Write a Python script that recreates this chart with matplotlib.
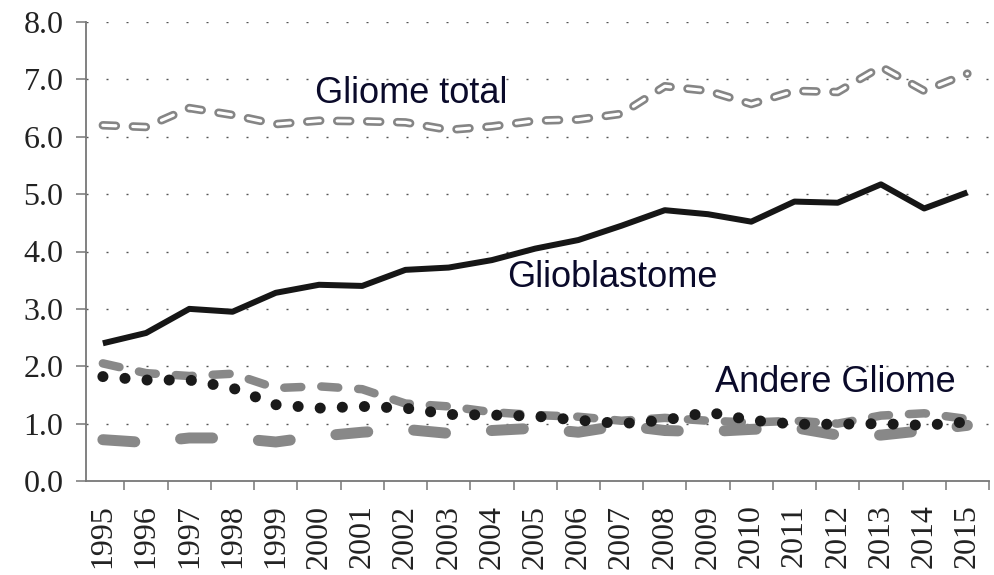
import numpy as np
import matplotlib
matplotlib.use('Agg')
import matplotlib.pyplot as plt

plt.rcParams['lines.scale_dashes'] = False

years = [str(y) for y in range(1995, 2016)]

gliome_total = [6.20, 6.17, 6.50, 6.38, 6.22, 6.28, 6.27, 6.25, 6.12, 6.18, 6.28, 6.30,
                6.40, 6.88, 6.80, 6.57, 6.80, 6.78, 7.22, 6.80, 7.10]
glioblastome = [2.40, 2.58, 3.00, 2.95, 3.28, 3.42, 3.40, 3.68, 3.72, 3.85, 4.05, 4.20,
                4.45, 4.72, 4.65, 4.52, 4.87, 4.85, 5.17, 4.75, 5.03]
andere_a = [2.05, 1.88, 1.83, 1.87, 1.62, 1.65, 1.60, 1.35, 1.30, 1.20, 1.15, 1.12,
            1.05, 1.10, 1.05, 1.02, 1.05, 1.00, 1.14, 1.18, 1.08]
andere_b = [1.82, 1.76, 1.76, 1.62, 1.33, 1.27, 1.30, 1.27, 1.16, 1.15, 1.13, 1.06,
            1.00, 1.06, 1.20, 1.06, 0.99, 0.99, 1.00, 0.97, 1.03]
andere_c = [0.72, 0.67, 0.75, 0.75, 0.68, 0.78, 0.85, 0.90, 0.83, 0.88, 0.92, 0.85,
            0.97, 0.88, 0.86, 0.90, 0.93, 0.80, 0.80, 0.88, 0.97]

x = np.arange(len(years))
px = 0.72  # points per pixel at dpi 100

fig = plt.figure(figsize=(9.95, 5.75), dpi=100)
ax = fig.add_axes([86 / 995, 1 - 481 / 575, (989 - 86) / 995, (481 - 22) / 575])

# grid
for v in range(1, 9):
    ax.axhline(v, color='#555555', lw=1.0, linestyle=(0, (2 * px, 18 * px)), zorder=0)

# gliome total, hollow dashes
dash_tot = (0, (13 * px, 17 * px))
ax.plot(x, gliome_total, color='#858585', lw=8.5 * px, linestyle=dash_tot,
        dash_capstyle='round', zorder=2)
ax.plot(x, gliome_total, color='white', lw=3.2 * px, linestyle=dash_tot,
        dash_capstyle='round', zorder=3)

ax.plot(x, glioblastome, color='#161616', lw=6 * px, solid_capstyle='butt', zorder=3)

ax.plot(x, andere_c, color='#888888', lw=11 * px, linestyle=(0, (32 * px, 46 * px)),
        dash_capstyle='round', zorder=2)
ax.plot(x, andere_a, color='#888888', lw=8.5 * px, linestyle=(0, (17 * px, 20 * px)),
        dash_capstyle='round', zorder=2)
ax.plot(x, andere_b, color='#1a1a1a', lw=11 * px, linestyle=(0, (0.1, 22 * px)),
        dash_capstyle='round', zorder=4)

txt = dict(fontsize=26, color='#0a0a2a', family='Liberation Sans', va='center', ha='left')
ax.text(4.9, 6.76, 'Gliome total', **txt)
ax.text(9.36, 3.54, 'Glioblastome', **txt)
ax.text(14.15, 1.71, 'Andere Gliome', **txt)

ax.set_xlim(-0.39, 20.48)
ax.set_ylim(0, 8)

for s in ['top', 'right']:
    ax.spines[s].set_visible(False)
for s in ['left', 'bottom']:
    ax.spines[s].set_color('#777777')
    ax.spines[s].set_linewidth(1.3)

ax.set_yticks(range(0, 9))
ax.set_yticklabels(['%.1f' % v for v in range(0, 9)], family='Liberation Serif',
                   fontsize=23, color='#222222')
ax.tick_params(axis='y', length=10 * px, width=1.1, color='#777777', pad=9)

ax.set_xticks(np.arange(0.5, 20.6, 1))
ax.set_xticklabels([])
ax.tick_params(axis='x', which='major', length=9 * px, width=1.1, color='#777777')
ax.set_xticks(x, minor=True)
ax.set_xticklabels(years, minor=True, rotation=90, family='Liberation Serif',
                   fontsize=23, color='#222222')
ax.tick_params(axis='x', which='minor', length=0, pad=17)

fig.savefig('out.png', dpi=100)
